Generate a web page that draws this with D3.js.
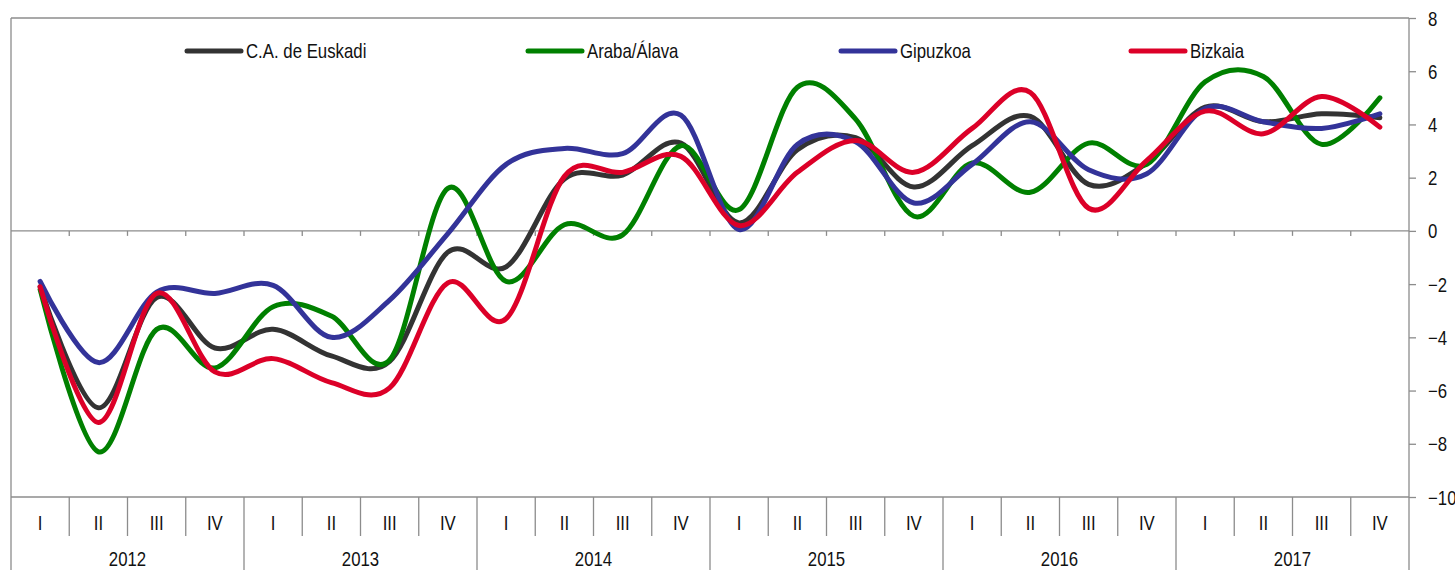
<!DOCTYPE html>
<html>
<head>
<meta charset="utf-8">
<script src="https://cdn.jsdelivr.net/npm/d3@7"></script>
<style>
  body { margin: 0; background: #fff; }
  text { font-family: "Liberation Sans", Arial, sans-serif; fill: #111; }
</style>
</head>
<body>
<div id="chart"></div>
<script>
// datos (tasa de variacion interanual, %)
const years = ["2012", "2013", "2014", "2015", "2016", "2017"];
const quarters = ["I", "II", "III", "IV"];
const yTicks = [8, 6, 4, 2, 0, -2, -4, -6, -8, -10];

const seriesNames = ["C.A. de Euskadi", "Araba/Álava", "Gipuzkoa", "Bizkaia"];
const euskadi = [-2.1, -6.65, -2.5, -4.4, -3.7, -4.7, -4.9, -0.8, -1.35, 1.95, 2.1, 3.3,
                 0.3, 3.05, 3.5, 1.65, 3.2, 4.3, 1.75, 2.55, 4.65, 4.1, 4.4, 4.25];
const araba   = [-2.2, -8.3, -3.7, -5.15, -2.85, -3.2, -4.85, 1.6, -1.9, 0.23, -0.15, 3.2,
                 0.8, 5.4, 4.2, 0.55, 2.55, 1.45, 3.3, 2.5, 5.6, 5.8, 3.25, 5.0];
const gipuzkoa = [-1.9, -4.95, -2.3, -2.35, -2.05, -4.0, -2.6, -0.1, 2.5, 3.1, 2.9, 4.35,
                  0.05, 3.25, 3.35, 1.05, 2.5, 4.1, 2.3, 2.15, 4.6, 4.1, 3.85, 4.4];
const bizkaia = [-2.1, -7.2, -2.35, -5.3, -4.8, -5.7, -5.9, -1.95, -3.3, 2.05, 2.2, 2.8,
                 0.2, 2.2, 3.4, 2.2, 3.85, 5.2, 0.85, 2.65, 4.5, 3.65, 5.05, 3.9];
const seriesColors = ["#333333", "#008000", "#333399", "#dc0028"];

// layout
const width = 1455, height = 570;
const plot = { left: 11, right: 1409, top: 18, bottom: 497 };
const legendX = [187, 528, 841, 1131];
const legendY = 51;
const squeeze = 0.84; // el texto original es estrecho

const svg = d3.select("#chart").append("svg")
    .attr("width", width)
    .attr("height", height);

const periods = d3.range(years.length * quarters.length);
const allSeries = [euskadi, araba, gipuzkoa, bizkaia];

const x = d3.scaleBand()
    .domain(periods)
    .range([plot.left, plot.right]);

const y = d3.scaleLinear()
    .domain([-10, 8])
    .range([plot.bottom, plot.top]);

const grey = "#8c8c8c";

// marco
svg.append("line")
    .attr("x1", plot.left).attr("x2", plot.right)
    .attr("y1", plot.top).attr("y2", plot.top)
    .attr("stroke", grey).attr("stroke-width", 1.3);
svg.append("line")
    .attr("x1", plot.left).attr("x2", plot.left)
    .attr("y1", plot.top).attr("y2", height)
    .attr("stroke", grey).attr("stroke-width", 1.3);
svg.append("line")
    .attr("x1", plot.left).attr("x2", plot.right)
    .attr("y1", plot.bottom).attr("y2", plot.bottom)
    .attr("stroke", grey).attr("stroke-width", 1.3);

// linea del cero con marcas
svg.append("line")
    .attr("x1", plot.left).attr("x2", plot.right)
    .attr("y1", y(0)).attr("y2", y(0))
    .attr("stroke", grey).attr("stroke-width", 1.3);
svg.append("g")
    .selectAll("line")
    .data(periods.slice(1))
    .join("line")
    .attr("x1", d => x(d)).attr("x2", d => x(d))
    .attr("y1", y(0)).attr("y2", y(0) + 5)
    .attr("stroke", grey).attr("stroke-width", 1.3);

// eje derecho
const yAxis = svg.append("g")
    .attr("transform", `translate(${plot.right},0)`)
    .call(d3.axisRight(y).tickValues(yTicks).tickSize(7).tickFormat(d3.format("d")));
yAxis.select(".domain")
    .attr("d", `M0,${plot.top}V${height}`)
    .attr("stroke", grey).attr("stroke-width", 1.3);
yAxis.selectAll(".tick line").attr("stroke", grey).attr("stroke-width", 1.3);
yAxis.selectAll(".tick text")
    .attr("x", 0).attr("dy", null).attr("y", 7)
    .attr("transform", `translate(19,0) scale(${squeeze},1)`)
    .attr("fill", "#111")
    .attr("font-size", 20)
    .attr("font-family", "Liberation Sans, Arial, sans-serif");

// eje de categorias (trimestres y años)
const sep = svg.append("g");
sep.selectAll("line")
    .data(periods.slice(1))
    .join("line")
    .attr("x1", d => x(d)).attr("x2", d => x(d))
    .attr("y1", plot.bottom)
    .attr("y2", d => d % 4 === 0 ? height : 536)
    .attr("stroke", grey).attr("stroke-width", 1.3);

svg.append("g")
    .selectAll("text")
    .data(periods)
    .join("text")
    .attr("transform", d => `translate(${x(d) + x.bandwidth() / 2},530) scale(${squeeze},1)`)
    .attr("text-anchor", "middle")
    .attr("font-size", 20)
    .text(d => quarters[d % 4]);

svg.append("g")
    .selectAll("text")
    .data(years)
    .join("text")
    .attr("transform", (d, i) => `translate(${x(i * 4) + x.bandwidth() * 2},566) scale(${squeeze},1)`)
    .attr("text-anchor", "middle")
    .attr("font-size", 20)
    .text(d => d);

// series suavizadas
const line = d3.line()
    .x((d, i) => x(i) + x.bandwidth() / 2)
    .y(d => y(d))
    .curve(d3.curveCatmullRom.alpha(0));

svg.append("g")
    .selectAll("path")
    .data(allSeries)
    .join("path")
    .attr("d", d => line(d))
    .attr("fill", "none")
    .attr("stroke", (d, i) => seriesColors[i])
    .attr("stroke-width", 5)
    .attr("stroke-linecap", "round")
    .attr("stroke-linejoin", "round");

// leyenda
const legend = svg.append("g")
    .selectAll("g")
    .data(seriesNames)
    .join("g")
    .attr("transform", (d, i) => `translate(${legendX[i]},${legendY})`);
legend.append("line")
    .attr("x1", 0).attr("x2", 54)
    .attr("stroke", (d, i) => seriesColors[i])
    .attr("stroke-width", 5)
    .attr("stroke-linecap", "round");
legend.append("text")
    .attr("transform", `translate(59,7) scale(${squeeze},1)`)
    .attr("font-size", 20)
    .text(d => d);
</script>
</body>
</html>
